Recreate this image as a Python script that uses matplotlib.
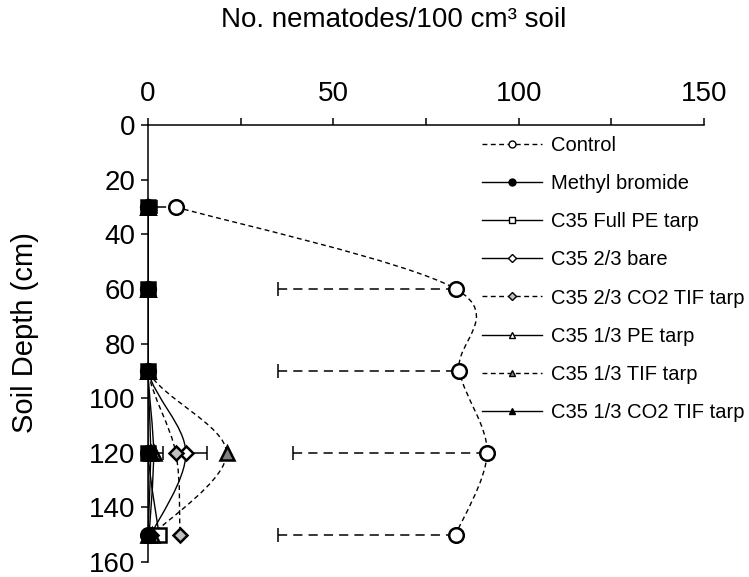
import numpy as np
import matplotlib
matplotlib.use("Agg")
import matplotlib.pyplot as plt
from matplotlib.path import Path
from matplotlib.patches import PathPatch
from matplotlib.lines import Line2D

plt.rcParams['font.family'] = ['Liberation Sans', 'DejaVu Sans']

depth = [30, 60, 90, 120, 150]

control = [7.5, 83, 84, 91.5, 83]
control_err = [5, 48, 49, 52.5, 48]
methyl_bromide = [0, 0, 0, 0, 0]
full_pe = [0, 0, 0, 0, 3]
bare_23 = [0, 0, 0, 10.2, 0.8]
bare_23_err = [0, 0, 0, 5.7, 0]
co2_tif_23 = [0, 0, 0, 7.5, 8.6]
pe_13 = [0, 0, 0, 1.5, 0.3]
pe_13_err = [0, 0, 0, 2.5, 0]
tif_13 = [0, 0, 0, 21.2, 1.2]
co2_tif_13 = [0, 0, 0, 0.7, 0]

labels = ["Control", "Methyl bromide", "C35 Full PE tarp", "C35 2/3 bare",
          "C35 2/3 CO2 TIF tarp", "C35 1/3 PE tarp", "C35 1/3 TIF tarp",
          "C35 1/3 CO2 TIF tarp"]

DASH = (0, (3.5, 2.5))

# label, values, marker, fill, line style, marker size, zorder
series = [
    (labels[0], control, 'o', 'white', DASH, 10.5, 6),
    (labels[1], methyl_bromide, 'o', 'black', '-', 10.5, 8),
    (labels[2], full_pe, 's', 'white', '-', 10.5, 3),
    (labels[3], bare_23, 'D', 'white', '-', 7.5, 4),
    (labels[4], co2_tif_23, 'D', '#c0c0c0', DASH, 7.0, 4),
    (labels[5], pe_13, '^', 'white', '-', 10, 5),
    (labels[6], tif_13, '^', '#808080', DASH, 10, 5),
    (labels[7], co2_tif_13, '^', 'black', '-', 10, 9),
]


def smooth_path(x, y):
    # cubic Bezier through the points (Catmull-Rom style tangents)
    pts = np.column_stack([x, y]).astype(float)
    n = len(pts)
    verts = [pts[0]]
    codes = [Path.MOVETO]
    for i in range(n - 1):
        p0 = pts[max(i - 1, 0)]
        p1 = pts[i]
        p2 = pts[i + 1]
        p3 = pts[min(i + 2, n - 1)]
        verts += [p1 + (p2 - p0) / 6, p2 - (p3 - p1) / 6, p2]
        codes += [Path.CURVE4] * 3
    return Path(verts, codes)


fig = plt.figure(figsize=(7.49, 5.77), dpi=100)
ax = fig.add_axes([148 / 749, 1 - 562 / 577, (704 - 148) / 749, (562 - 125) / 577])

# error bars
eb = ax.errorbar(control, depth, xerr=[control_err, np.zeros(5)], fmt='none',
                 ecolor='black', elinewidth=1.1, capsize=5, capthick=1.1, zorder=1)
eb[2][0].set_linestyle((0, (6, 4)))
for vals, err in [(bare_23, bare_23_err), (pe_13, pe_13_err)]:
    ax.errorbar(vals[3:4], depth[3:4], xerr=[[0], err[3:4]], fmt='none',
                ecolor='black', elinewidth=1.1, capsize=5, capthick=1.1, zorder=1)

handles = []
for label, vals, mk, fc, ls, ms, z in series:
    ax.add_patch(PathPatch(smooth_path(vals, depth), fill=False, ec='black',
                           lw=1.0, ls=ls, zorder=2))
    ax.plot(vals, depth, ls='none', marker=mk, ms=ms, mfc=fc, mec='black',
            mew=1.8, zorder=z, clip_on=False)
    handles.append(Line2D([], [], color='black', lw=1.0, ls=ls, marker=mk,
                          ms=5 if mk != 'D' else 4, mfc=fc, mec='black', mew=1.0))

ax.set_xlim(0, 150)
ax.set_ylim(160, 0)
ax.xaxis.set_ticks_position('top')
ax.set_xticks([0, 50, 100, 150])
ax.set_xticks([25, 75, 125], minor=True)
ax.set_yticks(np.arange(0, 161, 20))
ax.tick_params(axis='x', which='both', direction='out', length=5, width=1.1,
               pad=8, labelsize=20)
ax.tick_params(axis='y', direction='out', length=5, width=1.1, pad=4, labelsize=20)
ax.spines['right'].set_visible(False)
ax.spines['bottom'].set_visible(False)
ax.spines['top'].set_linewidth(1.1)
ax.spines['left'].set_linewidth(1.1)

ax.legend(handles, labels, loc='upper left',
          bbox_to_anchor=(482 / 749, 1 - 136 / 577), bbox_transform=fig.transFigure,
          frameon=False, fontsize=14.5, handlelength=3.0, handletextpad=0.45,
          labelspacing=0.95, borderpad=0, borderaxespad=0)

fig.text(394 / 749, 1 - 20 / 577, "No. nematodes/100 cm³ soil", fontsize=20,
         ha='center', va='center')
fig.text(25 / 749, 1 - 333 / 577, "Soil Depth (cm)", fontsize=21, rotation=90,
         ha='center', va='center')

fig.savefig("out.png", dpi=100)
